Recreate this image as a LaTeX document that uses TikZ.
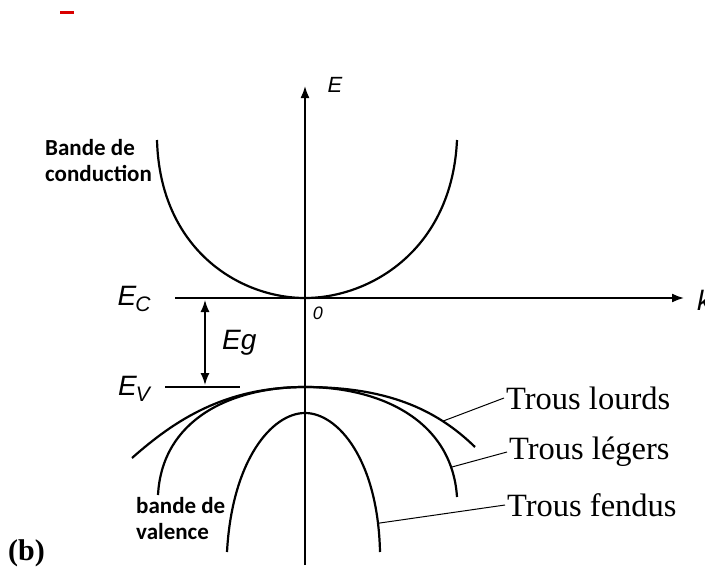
\documentclass[tikz,border=0pt]{standalone}
\usepackage{fontspec}
\setmainfont{Liberation Serif}
\newfontfamily\bandfont{Carlito}
\newfontfamily\axisfont{Liberation Sans}
\usetikzlibrary{arrows.meta,calc,positioning}

\begin{document}
\begin{tikzpicture}[
  x=1pt,y=-1pt,
  >={Latex[length=12pt,width=9pt]},
  axis/.style={->,line width=1.7pt},
  band/.style={line width=2.2pt},
  leader/.style={line width=1pt},
  hole/.style={font=\fontsize{32.5}{36}\selectfont,inner sep=2pt,anchor=west},
  region/.style={font=\bandfont\bfseries\fontsize{23}{26}\selectfont,align=left,inner sep=0pt,anchor=north west},
  axlab/.style={font=\axisfont\itshape\fontsize{28}{30}\selectfont,inner sep=0pt}
]
\useasboundingbox (0,0) rectangle (705,573);
\draw[red!85!black,line width=3pt] (60,12) -- (74,12);
\coordinate (origin) at (305,298);
\coordinate (ecstart) at (175,298);
\coordinate (ktip) at (684,298);
\coordinate (ebottom) at (305,565);
\coordinate (etip) at (305,86);
\draw[axis] (ecstart) -- (ktip);
\draw[axis] (ebottom) -- (etip);
\node[axlab,font=\axisfont\itshape\fontsize{22}{24}\selectfont] (elab) at (335,85) {E};
\node[axlab,anchor=west] (klab) at (697,300) {k};
\node[axlab,font=\axisfont\itshape\fontsize{18}{20}\selectfont] (zero) at (318,313) {0};
\node[axlab] (ec) at (134,299) {E\kern-1pt\raisebox{-6pt}{\fontsize{21}{21}\selectfont C}};
\node[axlab] (ev) at (134,389) {E\kern-1pt\raisebox{-6pt}{\fontsize{21}{21}\selectfont V}};
\coordinate (gaptop) at (205,300);
\coordinate (gapbot) at (205,385);
\draw[<->,line width=1.4pt] (gaptop) -- (gapbot);
\node[axlab,right=17pt of $(gaptop)!0.5!(gapbot)$] (eg) {Eg};
\coordinate (evleft) at (165,387);
\coordinate (evright) at (240,387);
\draw[line width=1.4pt] (evleft) -- (evright);
\draw[band] (157,140) .. controls (160,250) and (240,298) .. (origin)
  .. controls (370,298) and (452,250) .. (457,140);
\draw[band] (132,458) .. controls (175,420) and (225,387) .. (305,387)
  .. controls (385,387) and (435,408) .. (475,447) coordinate[pos=0.75] (hhpt);
\draw[band] (158,495) .. controls (162,420) and (230,387) .. (305,387)
  .. controls (380,387) and (452,420) .. (457,497) coordinate[pos=0.86] (lhpt);
\draw[band] (227,552) .. controls (232,460) and (272,413) .. (305,413)
  .. controls (338,413) and (378,460) .. (380,552) coordinate[pos=0.89] (sopt);
\node[hole] (heavy) at (504,398) {Trous lourds};
\node[hole] (light) at (507,452) {Trous légers};
\node[hole] (split) at (505,505) {Trous fendus};
\draw[leader] (hhpt) -- (heavy.west);
\draw[leader] (lhpt) -- (light.west);
\draw[leader] (sopt) -- (split.west);
\node[region] (cb) at (45,139) {Bande de\\conduction};
\node[region] (vb) at (136,497) {bande de\\valence};
\node[font=\bfseries\fontsize{30}{32}\selectfont,anchor=west,inner sep=0pt] (panel) at (8,553) {(b)};
\end{tikzpicture}
\end{document}
